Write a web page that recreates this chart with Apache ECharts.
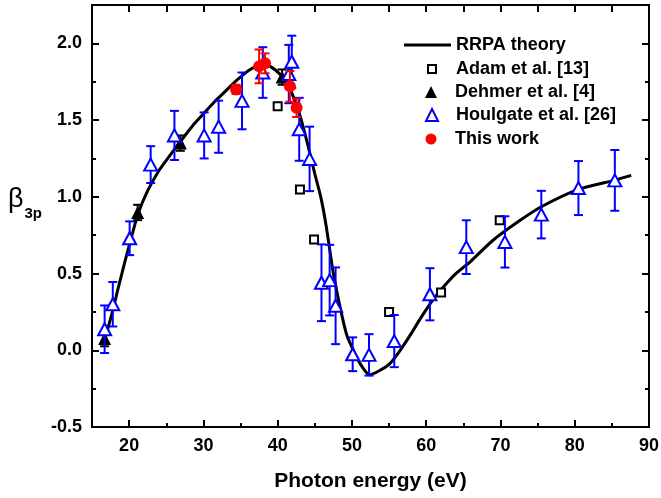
<!DOCTYPE html>
<html><head><meta charset="utf-8">
<script src="https://cdn.jsdelivr.net/npm/echarts@6/dist/echarts.min.js"></script>
<style>html,body{margin:0;padding:0;background:#fff}#c{width:661px;height:498px}</style>
</head><body><div id="c"></div>
<script>
// RRPA theory curve
const rrpaX = [16.5,17.0,17.8,18.5,19.5,20.5,21.2,22.5,24.0,25.5,26.9,28.5,29.8,31.5,32.9,34.5,36.3,37.9,39.0,40.5,41.5,42.2,43.0,44.0,45.0,45.8,46.5,47.5,48.5,49.3,50.2,51.1,52.4,53.8,55.1,56.5,58.0,59.0,60.0,61.0,62.0,63.0,64.0,65.0,66.0,69.0,72.6,75.5,80.5,85.4,87.6];
const rrpaY = [0.04,0.12,0.26,0.40,0.59,0.77,0.89,1.04,1.17,1.27,1.36,1.46,1.53,1.62,1.685,1.76,1.83,1.86,1.85,1.79,1.72,1.64,1.53,1.35,1.15,1.00,0.82,0.50,0.26,0.10,0.00,-0.087,-0.16,-0.13,-0.087,0.00,0.11,0.19,0.265,0.335,0.395,0.45,0.50,0.54,0.58,0.717,0.845,0.935,1.048,1.109,1.14];
// Adam et al. [13]
const adamX = [40.0, 43.0, 44.9, 55.0, 62.0, 69.9];
const adamY = [1.59, 1.048, 0.722, 0.25, 0.376, 0.848];
// Dehmer et al. [4]
const dehmerX = [16.7, 21.15, 26.9, 40.6];
const dehmerY = [0.076, 0.898, 1.35, 1.78];
const dehmerErr = [0.05, 0.05, 0.05, 0.05];
// Houlgate et al. [26]
const houlgateX = [16.7,17.8,20.07,22.9,26.1,30.1,32.05,35.2,38.0,41.5,41.9,42.9,44.3,45.9,47.0,47.8,50.1,52.3,55.7,60.5,65.4,70.6,75.5,80.5,85.4];
const houlgateY = [0.137,0.30,0.73,1.21,1.40,1.40,1.457,1.625,1.81,1.80,1.88,1.44,1.247,0.44,0.457,0.29,-0.026,-0.03,0.06,0.365,0.672,0.706,0.884,1.057,1.107];
const houlgateErr = [0.155,0.145,0.11,0.12,0.16,0.15,0.17,0.185,0.165,0.19,0.17,0.205,0.21,0.25,0.23,0.25,0.11,0.135,0.17,0.17,0.175,0.167,0.155,0.176,0.198];
// This work
const thisX = [34.4, 37.5, 38.3, 41.65, 42.55];
const thisY = [1.70, 1.85, 1.87, 1.72, 1.58];
const thisErr = [0.03, 0.11, 0.065, 0.1, 0.06];
// ticks
const xMajor = [20,30,40,50,60,70,80,90];
const xMinor = [25,35,45,55,65,75,85];
const xTop = [20,25,30,35,40,45,50,55,60,65,70,75,80,85];
const yMajor = [-0.5,0,0.5,1.0,1.5,2.0];
const yMinor = [-0.25,0.25,0.75,1.25,1.75];

const FONT = '"Liberation Sans", Arial, sans-serif';
const zip = (a, b) => a.map((v, i) => [v, b[i]]);
const errData = (xs, ys, es) => xs.map((v, i) => [v, ys[i], ys[i] - es[i], ys[i] + es[i]]);

function errRender(color, capHalf) {
  return function (params, api) {
    const x = api.value(0), lo = api.value(2), hi = api.value(3);
    const a = api.coord([x, hi]), b = api.coord([x, lo]);
    const style = { stroke: color, lineWidth: 2 };
    return { type: 'group', children: [
      { type: 'line', shape: { x1: a[0], y1: a[1], x2: b[0], y2: b[1] }, style: style },
      { type: 'line', shape: { x1: a[0] - capHalf, y1: a[1], x2: a[0] + capHalf, y2: a[1] }, style: style },
      { type: 'line', shape: { x1: b[0] - capHalf, y1: b[1], x2: b[0] + capHalf, y2: b[1] }, style: style }
    ]};
  };
}

const axLine = { show: true, onZero: false, lineStyle: { color: '#000', width: 2 } };
const noLine = { show: false, onZero: false };
const gridRect = { left: 92, right: 12, top: 5, bottom: 71, outerBoundsMode: 'none' };
const legendText = { fontSize: 18, fontWeight: 'bold', fontFamily: FONT, color: '#000', lineHeight: 18 };

// one legend entry per symbol so each icon keeps its own size
function symLegend(name, size, centerY) {
  const left = 431 - size / 2;
  return { orient: 'vertical', left: left, top: centerY - 9, padding: 0,
    itemWidth: size, itemHeight: size,
    textStyle: Object.assign({ padding: [0, 0, 0, 455 - (left + size + 5)] }, legendText),
    selectedMode: false, data: [name] };
}

const option = {
  animation: false,
  backgroundColor: '#fff',
  grid: [Object.assign({}, gridRect), Object.assign({}, gridRect)],
  legend: [
    { orient: 'vertical', left: 404, top: 36, padding: 0, itemWidth: 47, itemHeight: 3,
      textStyle: legendText, selectedMode: false,
      data: [{ name: 'RRPA theory', icon: 'rect', itemStyle: { color: '#000' } }] },
    symLegend('Adam et al. [13]', 8, 69),
    symLegend('Dehmer et al. [4]', 12, 92),
    symLegend('Houlgate et al. [26]', 12, 115),
    symLegend('This work', 11, 139)
  ],
  xAxis: [
    { type: 'value', gridIndex: 0, position: 'bottom', min: 15, max: 90,
      axisLine: axLine, splitLine: { show: false },
      axisTick: { inside: true, length: 7, lineStyle: { color: '#000', width: 2 }, customValues: xMajor },
      axisLabel: { customValues: xMajor, fontSize: 18, fontWeight: 'bold', fontFamily: FONT, color: '#000', margin: 10 },
      name: 'Photon energy (eV)', nameLocation: 'middle', nameGap: 44,
      nameTextStyle: { fontSize: 21, fontWeight: 'bold', fontFamily: FONT, color: '#000' } },
    { type: 'value', gridIndex: 0, position: 'top', min: 15, max: 90,
      axisLine: axLine, splitLine: { show: false },
      axisTick: { inside: true, length: 7, lineStyle: { color: '#000', width: 2 }, customValues: xTop },
      axisLabel: { show: false } },
    { type: 'value', gridIndex: 1, position: 'bottom', min: 15, max: 90,
      axisLine: noLine, splitLine: { show: false },
      axisTick: { inside: true, length: 4, lineStyle: { color: '#000', width: 2 }, customValues: xMinor },
      axisLabel: { show: false } }
  ],
  yAxis: [
    { type: 'value', gridIndex: 0, position: 'left', min: -0.5, max: 2.25,
      axisLine: axLine, splitLine: { show: false },
      axisTick: { inside: true, length: 7, lineStyle: { color: '#000', width: 2 }, customValues: yMajor },
      axisLabel: { customValues: yMajor, formatter: v => Number(v).toFixed(1), fontSize: 18, fontWeight: 'bold', fontFamily: FONT, color: '#000', margin: 10 },
      name: '{b|β}{s|3p}', nameLocation: 'middle', nameRotate: 0, nameGap: 50,
      nameTextStyle: { padding: [0, 0, 32, 0], rich: {
        b: { fontSize: 27, fontFamily: FONT, color: '#000', verticalAlign: 'bottom' },
        s: { fontSize: 15, fontWeight: 'bold', fontFamily: FONT, color: '#000', verticalAlign: 'bottom', padding: [0, 0, -8, 1] }
      } } },
    { type: 'value', gridIndex: 0, position: 'right', min: -0.5, max: 2.25,
      axisLine: axLine, splitLine: { show: false },
      axisTick: { inside: true, length: 7, lineStyle: { color: '#000', width: 2 }, customValues: yMajor },
      axisLabel: { show: false } },
    { type: 'value', gridIndex: 1, position: 'left', min: -0.5, max: 2.25,
      axisLine: noLine, splitLine: { show: false },
      axisTick: { inside: true, length: 4, lineStyle: { color: '#000', width: 2 }, customValues: yMinor },
      axisLabel: { show: false } },
    { type: 'value', gridIndex: 1, position: 'right', min: -0.5, max: 2.25,
      axisLine: noLine, splitLine: { show: false },
      axisTick: { inside: true, length: 4, lineStyle: { color: '#000', width: 2 }, customValues: yMinor },
      axisLabel: { show: false } }
  ],
  series: [
    { name: 'RRPA theory', type: 'line', xAxisIndex: 0, yAxisIndex: 0, data: zip(rrpaX, rrpaY),
      symbol: 'none', smooth: 0.25, lineStyle: { color: '#000', width: 3 }, itemStyle: { color: '#000' }, z: 2, silent: true },
    { name: 'Adam et al. [13]', type: 'scatter', xAxisIndex: 0, yAxisIndex: 0, data: zip(adamX, adamY),
      symbol: 'rect', symbolSize: 8, itemStyle: { color: '#fff', borderColor: '#000', borderWidth: 2, opacity: 1 }, z: 3 },
    { name: 'dehmerErr', type: 'custom', xAxisIndex: 0, yAxisIndex: 0, data: errData(dehmerX, dehmerY, dehmerErr),
      renderItem: errRender('#000', 4.5), encode: { x: 0, y: 1 }, z: 4, silent: true },
    { name: 'Dehmer et al. [4]', type: 'scatter', xAxisIndex: 0, yAxisIndex: 0, data: zip(dehmerX, dehmerY),
      symbol: 'triangle', symbolSize: 13, itemStyle: { color: '#000', opacity: 1 }, z: 5 },
    { name: 'houlgateErr', type: 'custom', xAxisIndex: 0, yAxisIndex: 0, data: errData(houlgateX, houlgateY, houlgateErr),
      renderItem: errRender('#0000ff', 4.5), encode: { x: 0, y: 1 }, z: 6, silent: true },
    { name: 'Houlgate et al. [26]', type: 'scatter', xAxisIndex: 0, yAxisIndex: 0, data: zip(houlgateX, houlgateY),
      symbol: 'triangle', symbolSize: [13, 12], itemStyle: { color: '#fff', borderColor: '#0000ff', borderWidth: 2, opacity: 1 }, z: 7 },
    { name: 'thisErr', type: 'custom', xAxisIndex: 0, yAxisIndex: 0, data: errData(thisX, thisY, thisErr),
      renderItem: errRender('#ff0000', 4.5), encode: { x: 0, y: 1 }, z: 8, silent: true },
    { name: 'This work', type: 'scatter', xAxisIndex: 0, yAxisIndex: 0, data: zip(thisX, thisY),
      symbol: 'circle', symbolSize: 12, itemStyle: { color: '#ff0000', opacity: 1 }, z: 9 }
  ]
};
const chart = echarts.init(document.getElementById('c'), null, { renderer: 'canvas' });
chart.setOption(option);
</script>
</body></html>
